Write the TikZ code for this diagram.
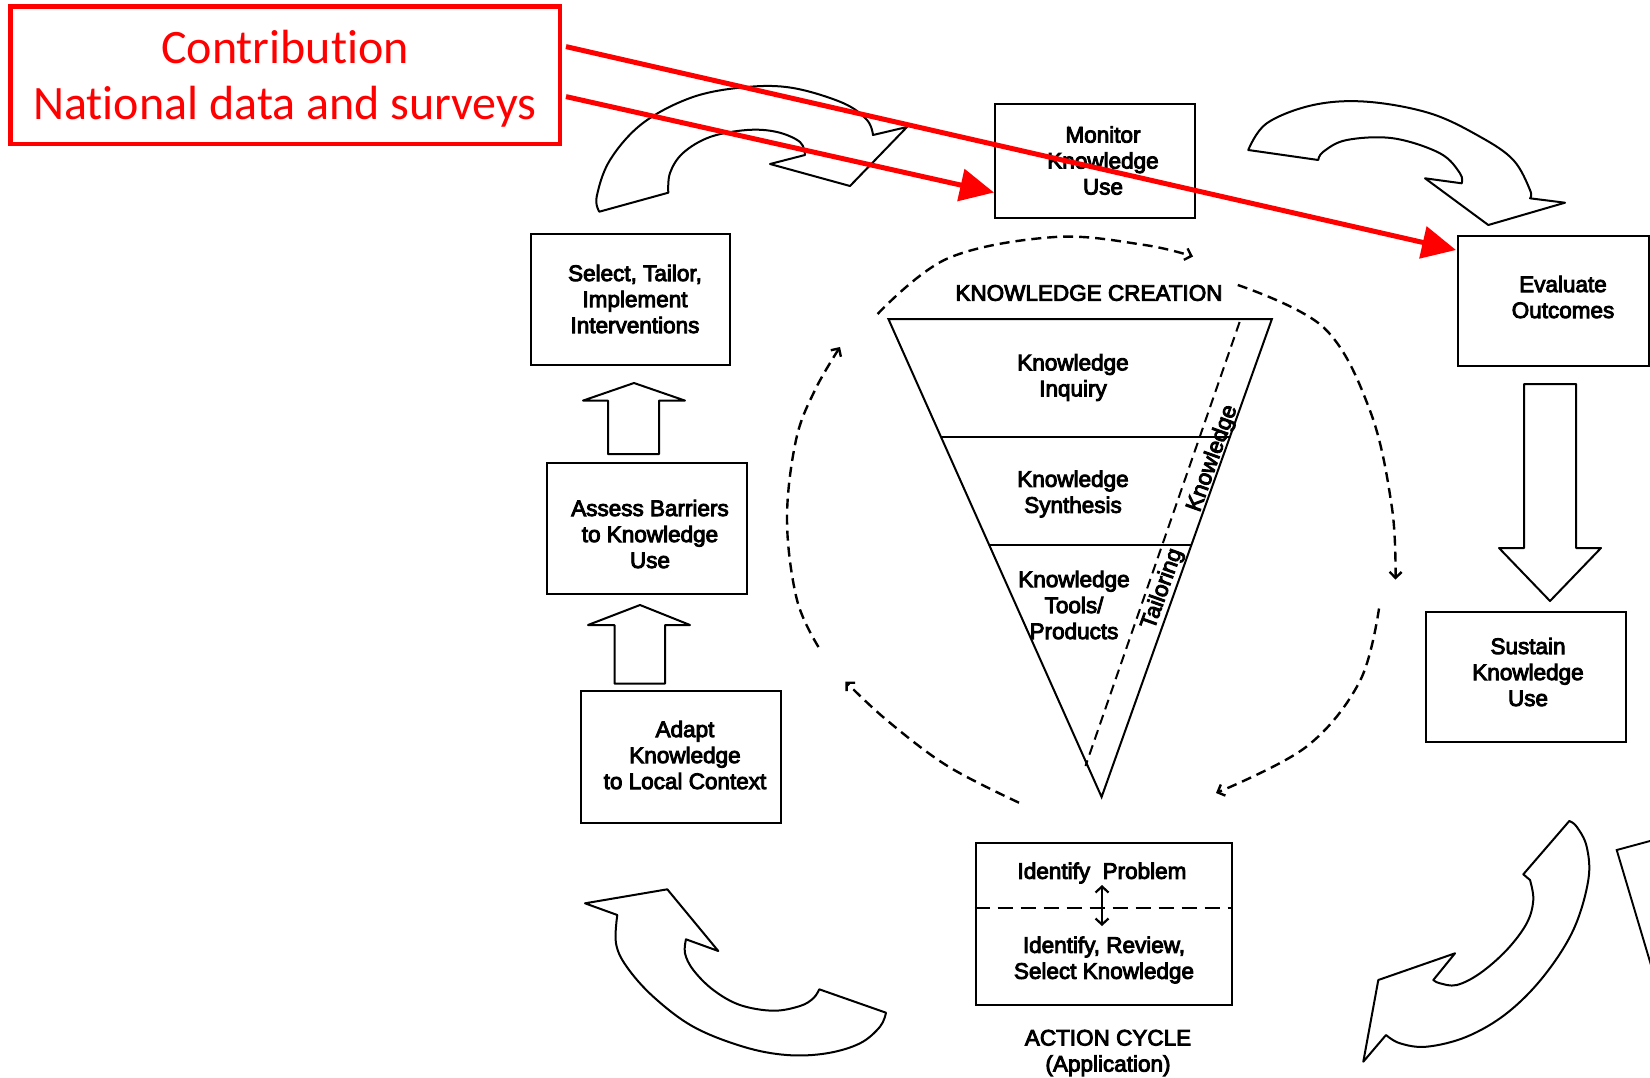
\documentclass[tikz,border=0pt]{standalone}
\usepackage{fontspec}
\setmainfont{Liberation Sans}
\newfontfamily\diagfont[FakeBold=4]{Liberation Sans}
\newfontfamily\redfont[Ligatures=NoCommon]{Carlito}
\usetikzlibrary{arrows.meta}
\begin{document}
\begin{tikzpicture}[x=1pt,y=-1pt,
  box/.style={draw, line width=1.9pt, inner sep=0pt},
  txt/.style={align=center, inner sep=0pt, font=\diagfont\fontsize{22.5}{26}\selectfont},
  redtxt/.style={text=red, inner sep=0pt, font=\redfont\fontsize{48}{58}\selectfont},
  blockarrow/.style={draw, line width=2pt, line join=round},
  cyc/.style={draw, line width=2.4pt, dash pattern=on 10pt off 6pt, -{Straight Barb[length=6pt,width=12pt]}},
  redarrow/.style={draw=red, line width=5pt, -{Triangle[length=34pt,width=32pt]}},
]
\clip (0,0) rectangle (1650,1077);
\fill[white] (0,0) rectangle (1650,1077);

% ---- boxes ----
\node[box, minimum width=199pt, minimum height=131pt] (select) at (630.5,299.5) {};
\node[txt] (selectt) at (635,299) {Select, Tailor,\\Implement\\Interventions};
\node[box, minimum width=200pt, minimum height=131pt] (assess) at (647,528.5) {};
\node[txt] (assesst) at (650,534) {Assess Barriers\\to Knowledge\\Use};
\node[box, minimum width=200pt, minimum height=132pt] (adapt) at (681,757) {};
\node[txt] (adaptt) at (685,755) {Adapt\\Knowledge\\to Local Context};
\node[box, minimum width=200pt, minimum height=114pt] (monitor) at (1095,161) {};
\node[txt] (monitort) at (1103,160.5) {Monitor\\Knowledge\\Use};
\node[box, minimum width=191pt, minimum height=130pt] (evaluate) at (1553.5,301) {};
\node[txt] (evaluatet) at (1563,297) {Evaluate\\Outcomes};
\node[box, minimum width=200pt, minimum height=130pt] (sustain) at (1526,677) {};
\node[txt] (sustaint) at (1528,672) {Sustain\\Knowledge\\Use};

% action box
\node[box, line width=2.8pt, minimum width=256pt, minimum height=162pt] (action) at (1104,924) {};
\draw[line width=2.6pt, dash pattern=on 15pt off 8pt] (action.west |- 0,908) -- (action.east |- 0,908);
\node[txt] (idp) at (1102,873) {Identify\ \ Problem};
\node[txt] (irs) at (1104,960) {Identify, Review,\\Select Knowledge};
\draw[line width=2.2pt, {Straight Barb[length=6pt,width=13pt]}-{Straight Barb[length=6pt,width=13pt]}] (1102,885) -- (1102,926);
\node[txt] (acl) at (1108,1053) {ACTION CYCLE\\(Application)};

% ---- straight block arrows ----
\draw[blockarrow] (608,454) -- (608,400.6) -- (583,400.6) -- (634,383) -- (685,400.6) -- (659,400.6) -- (659,454) -- cycle;
\draw[blockarrow] (614.5,683.7) -- (614.5,625) -- (588,625) -- (640,605) -- (690,625) -- (665,625) -- (665,683.7) -- cycle;
\draw[blockarrow] (1524,384) -- (1576,384) -- (1576,548) -- (1601,548) -- (1550,601) -- (1499,548) -- (1524,548) -- cycle;

% ---- curved block arrows ----
\draw[blockarrow] plot[smooth, tension=0.6] coordinates {(599.3,211.7) (596.7,196.7) (610,160) (643,123) (693,97) (747,87) (793,88) (843,103) (867,120) (873,135)}
  -- (907,127) -- (850,186) -- (770,164) -- (805,155)
  -- plot[smooth, tension=0.6] coordinates {(805,155) (800,142) (777,132) (747,130) (710,137) (683,153) (670,173) (668.3,192.7)} -- cycle;
\draw[blockarrow] plot[smooth, tension=0.6] coordinates {(1248.3,150) (1266.7,123.3) (1313.3,105) (1366.7,101.7) (1430,113.3) (1480,136.7) (1513.3,160) (1530,190) (1530,198.3)}
  -- (1565,202.7) -- (1488.3,225) -- (1425,178.3) -- (1461.7,183.3)
  -- plot[smooth, tension=0.6] coordinates {(1461.7,183.3) (1460,173.3) (1440,153.3) (1393.3,138.3) (1346.7,140) (1323.3,151.7) (1318.3,160)} -- cycle;
\draw[blockarrow] (1569.3,821) -- (1523.3,874.3)
  -- plot[smooth, tension=0.6] coordinates {(1530,880) (1533.3,900) (1526.7,923.3) (1506.7,950) (1480,973.3) (1456.7,985) (1440,983.3) (1433.3,980)}
  -- (1455,953.3) -- (1378.3,980) -- (1363.3,1061.7) -- (1386,1035)
  -- plot[smooth, tension=0.6] coordinates {(1386,1035) (1400,1043.3) (1426.7,1046.7) (1466.7,1036.7) (1506.7,1013.3) (1543.3,976.7) (1573.3,930) (1588.3,880) (1586.7,846.7) (1576.7,826.7) (1569.3,821)} -- cycle;
\draw[blockarrow] (585,903.3) -- (667.3,889.3) -- (718.3,951) -- (686,939.3)
  -- plot[smooth, tension=0.6] coordinates {(686,939.3) (685,953.3) (693.3,970) (713.3,990) (740,1005) (773.3,1010.7) (800,1006) (813.3,998.3) (819.3,989.3)}
  -- (886,1012.7)
  -- plot[smooth, tension=0.6] coordinates {(886,1012.7) (880,1026.7) (860,1043.3) (826.7,1053.3) (786.7,1055) (743.3,1046.7) (693.3,1026.7) (653.3,996.7) (626.7,966.7) (616,943.3) (617.3,915)} -- cycle;

% partial box at right edge
\draw[line width=1.9pt] (1660,838.3) -- (1616.7,850) -- (1652,968.4);

% ---- knowledge funnel ----
\draw[line width=2pt, line join=miter] (888.4,319) -- (1271.9,319) -- (1101.6,797) -- cycle;
\draw[line width=2pt] (941.2,437.3) -- (1229.7,437.3);
\draw[line width=2pt] (989.2,545) -- (1191.4,545);
\draw[line width=2pt, dash pattern=on 10pt off 6pt] (1239.6,322) -- (1085.5,766);
\node[txt] (kc) at (1089,293) {KNOWLEDGE CREATION};
\node[txt] (kinq) at (1073,377.5) {Knowledge\\Inquiry};
\node[txt] (ksyn) at (1073,494) {Knowledge\\Synthesis};
\node[txt] (ktools) at (1074,605) {Knowledge\\Tools/\\Products};
\node[txt, rotate=70.4] (krot) at (1212.8,458.5) {Knowledge};
\node[txt, rotate=70.4] (tail) at (1162.6,589) {Tailoring};

% ---- dashed cycle arcs ----
\draw[cyc] plot[smooth, tension=0.6] coordinates {(877.6,314) (947.5,258.5) (1055,237) (1144.7,245) (1193,256.5)};
\draw[cyc] plot[smooth, tension=0.6] coordinates {(1237.8,285) (1323.9,327.7) (1370.5,412) (1392,508) (1395.5,579.6)};
\draw[cyc] plot[smooth, tension=0.6] coordinates {(1379,608.5) (1359.7,681.5) (1306,747) (1216,793)};
\draw[cyc] plot[smooth, tension=0.6] coordinates {(1019,802.7) (947.5,766) (886.6,720) (845.4,681.5)};
\draw[cyc] plot[smooth, tension=0.6] coordinates {(818.5,647) (797,600) (787,520) (796,440) (815,390) (840,347)};

% ---- red annotation ----
\node[draw=red, line width=4.5pt, minimum width=549.5pt, minimum height=137.7pt] (contrib) at (285.25,75.15) {};
\node[redtxt, anchor=base] (c1) at (285,63) {Contribution};
\node[redtxt, anchor=base] (c2) at (285,119) {National data and surveys};
\coordinate (s1) at (566,46.6);
\coordinate (s2) at (566,96.6);
\coordinate (t1) at (1456,250);
\coordinate (t2) at (994,192.5);
\draw[redarrow] (s1) -- (t1);
\draw[redarrow] (s2) -- (t2);
\end{tikzpicture}
\end{document}
